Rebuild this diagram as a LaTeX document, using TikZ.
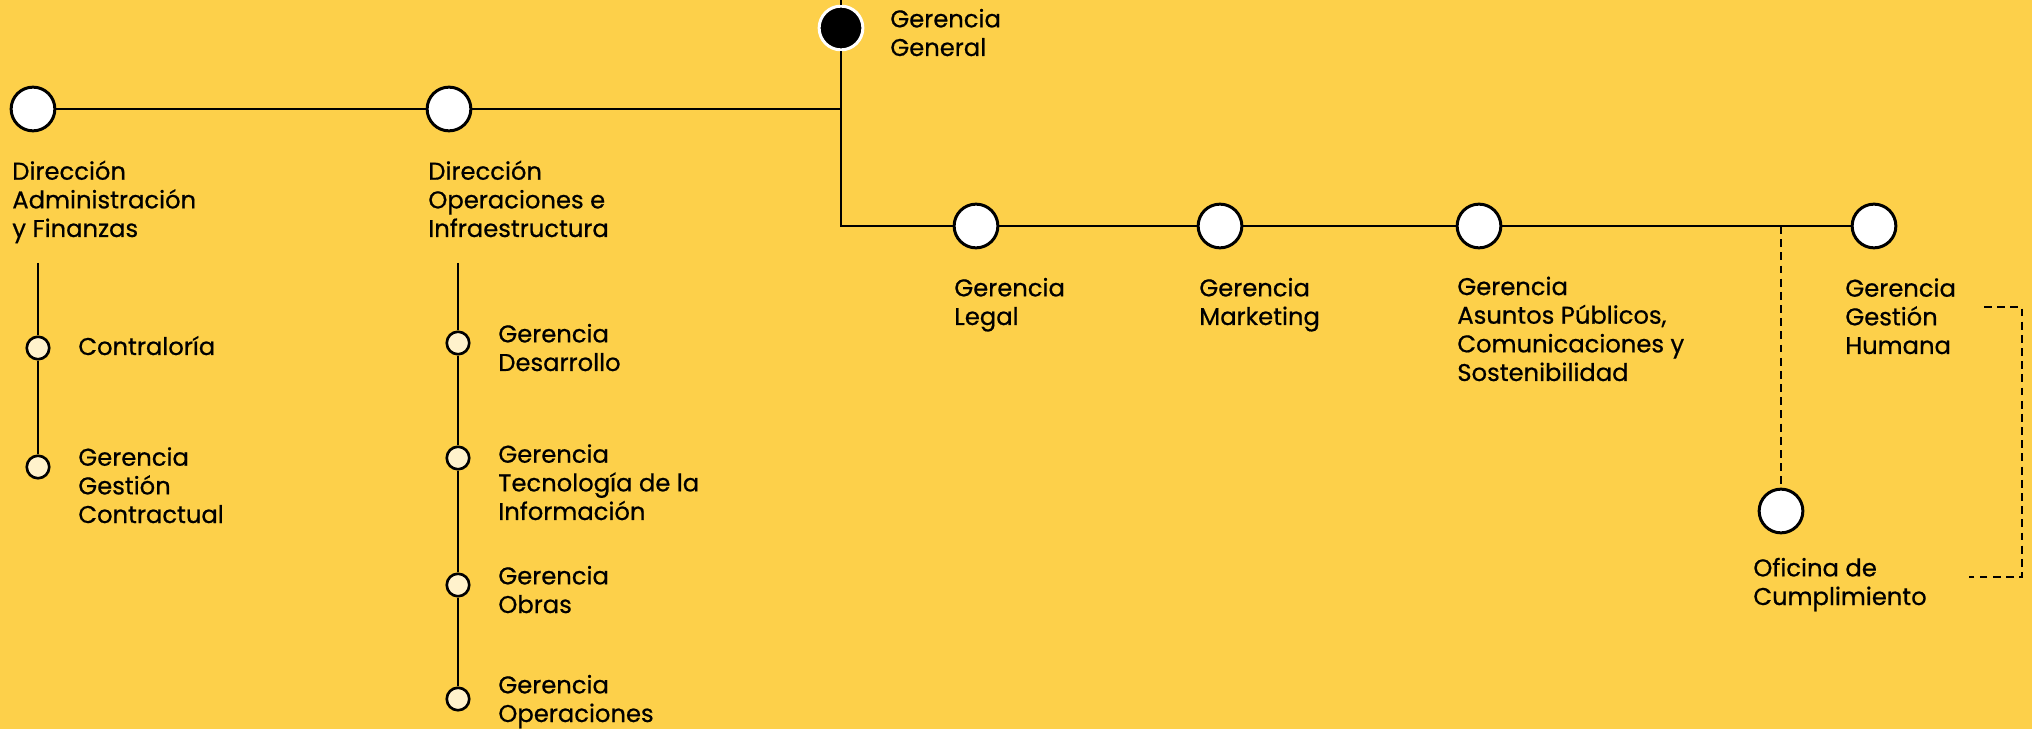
\documentclass[tikz,border=0pt]{standalone}
\usepackage{fontspec}
\setmainfont{Poppins}[FakeBold=0.6]
\usetikzlibrary{positioning}

\definecolor{bgyellow}{RGB}{253,208,74}
\definecolor{cream}{RGB}{255,242,204}

\tikzset{
  bignode/.style={circle,draw=black,fill=white,line width=1.7pt,minimum size=0.875cm,inner sep=0pt},
  topnode/.style={circle,draw=white,fill=black,line width=1.7pt,minimum size=0.875cm,inner sep=0pt},
  smallnode/.style={circle,draw=black,fill=cream,line width=1.5pt,minimum size=0.45cm,inner sep=0pt},
  lbl/.style={anchor=base west,align=left,inner sep=0pt,font=\fontsize{13.8}{16.3}\selectfont},
  link/.style={line width=1.6pt},
  dlink/.style={line width=1.5pt,dash pattern=on 4.5pt off 3pt},
}

\begin{document}
\begin{tikzpicture}[x=0.02cm,y=-0.02cm]
\fill[bgyellow] (0,0) rectangle (2032,729);
\useasboundingbox (0,0) rectangle (2032,729);

%units
\node[topnode] (gg) at (841,28) {};
\node[bignode] (daf) at (33,109) {};
\node[bignode] (doi) at (449,109) {};
\node[bignode] (legal) at (976,226) {};
\node[bignode] (mkt) at (1220,226) {};
\node[bignode] (apc) at (1479,226) {};
\node[bignode] (gh) at (1874,226) {};
\node[bignode] (cump) at (1781,511) {};

%sub units
\node[smallnode] (contra) at (38,348) {};
\node[smallnode] (gcon) at (38,467) {};
\node[smallnode] (desa) at (458,343) {};
\node[smallnode] (tec) at (458,458) {};
\node[smallnode] (obras) at (458,585) {};
\node[smallnode] (oper) at (458,699) {};

%bends and free ends
\coordinate (ggtop) at (841,0);
\coordinate (hub) at (841,109);
\coordinate (knee) at (841,226);
\coordinate (split) at (1781,226);
\coordinate (dafend) at (38,263);
\coordinate (doiend) at (458,263);
\coordinate (brtop) at (1984,307);
\coordinate (brbot) at (1969,577);

%lines
\draw[link] (ggtop) -- (gg);
\draw[link] (gg) -- (hub) -- (doi);
\draw[link] (doi) -- (daf);
\draw[link] (hub) -- (knee) -- (legal);
\draw[link] (legal) -- (mkt);
\draw[link] (mkt) -- (apc);
\draw[link] (apc) -- (gh);
\draw[link] (dafend) -- (contra) -- (gcon);
\draw[link] (doiend) -- (desa) -- (tec) -- (obras) -- (oper);
\draw[dlink] (split) -- (cump);
\draw[dlink] (brtop) -- ++(38,0) |- (brbot);

%labels (anchored on the baseline of the last line)
\node[lbl] (ggl) at (890,56) {Gerencia\\General};
\node[lbl] (dafl) at (12,237) {Dirección\\Administración\\y Finanzas};
\node[lbl] (doil) at (428,237) {Dirección\\Operaciones e\\Infraestructura};
\node[lbl] (contral) at (78,355) {Contraloría};
\node[lbl] (gconl) at (78,523) {Gerencia\\Gestión\\Contractual};
\node[lbl] (desal) at (498,371) {Gerencia\\Desarrollo};
\node[lbl] (tecl) at (498,520) {Gerencia\\Tecnología de la\\Información};
\node[lbl] (obrasl) at (498,613) {Gerencia\\Obras};
\node[lbl] (operl) at (498,722) {Gerencia\\Operaciones};
\node[lbl] (legall) at (954,325) {Gerencia\\Legal};
\node[lbl] (mktl) at (1199,325) {Gerencia\\Marketing};
\node[lbl] (apcl) at (1457,381) {Gerencia\\Asuntos Públicos,\\Comunicaciones y\\Sostenibilidad};
\node[lbl] (ghl) at (1845,354) {Gerencia\\Gestión\\Humana};
\node[lbl] (cumpl) at (1753,605) {Oficina de\\Cumplimiento};
\end{tikzpicture}
\end{document}
